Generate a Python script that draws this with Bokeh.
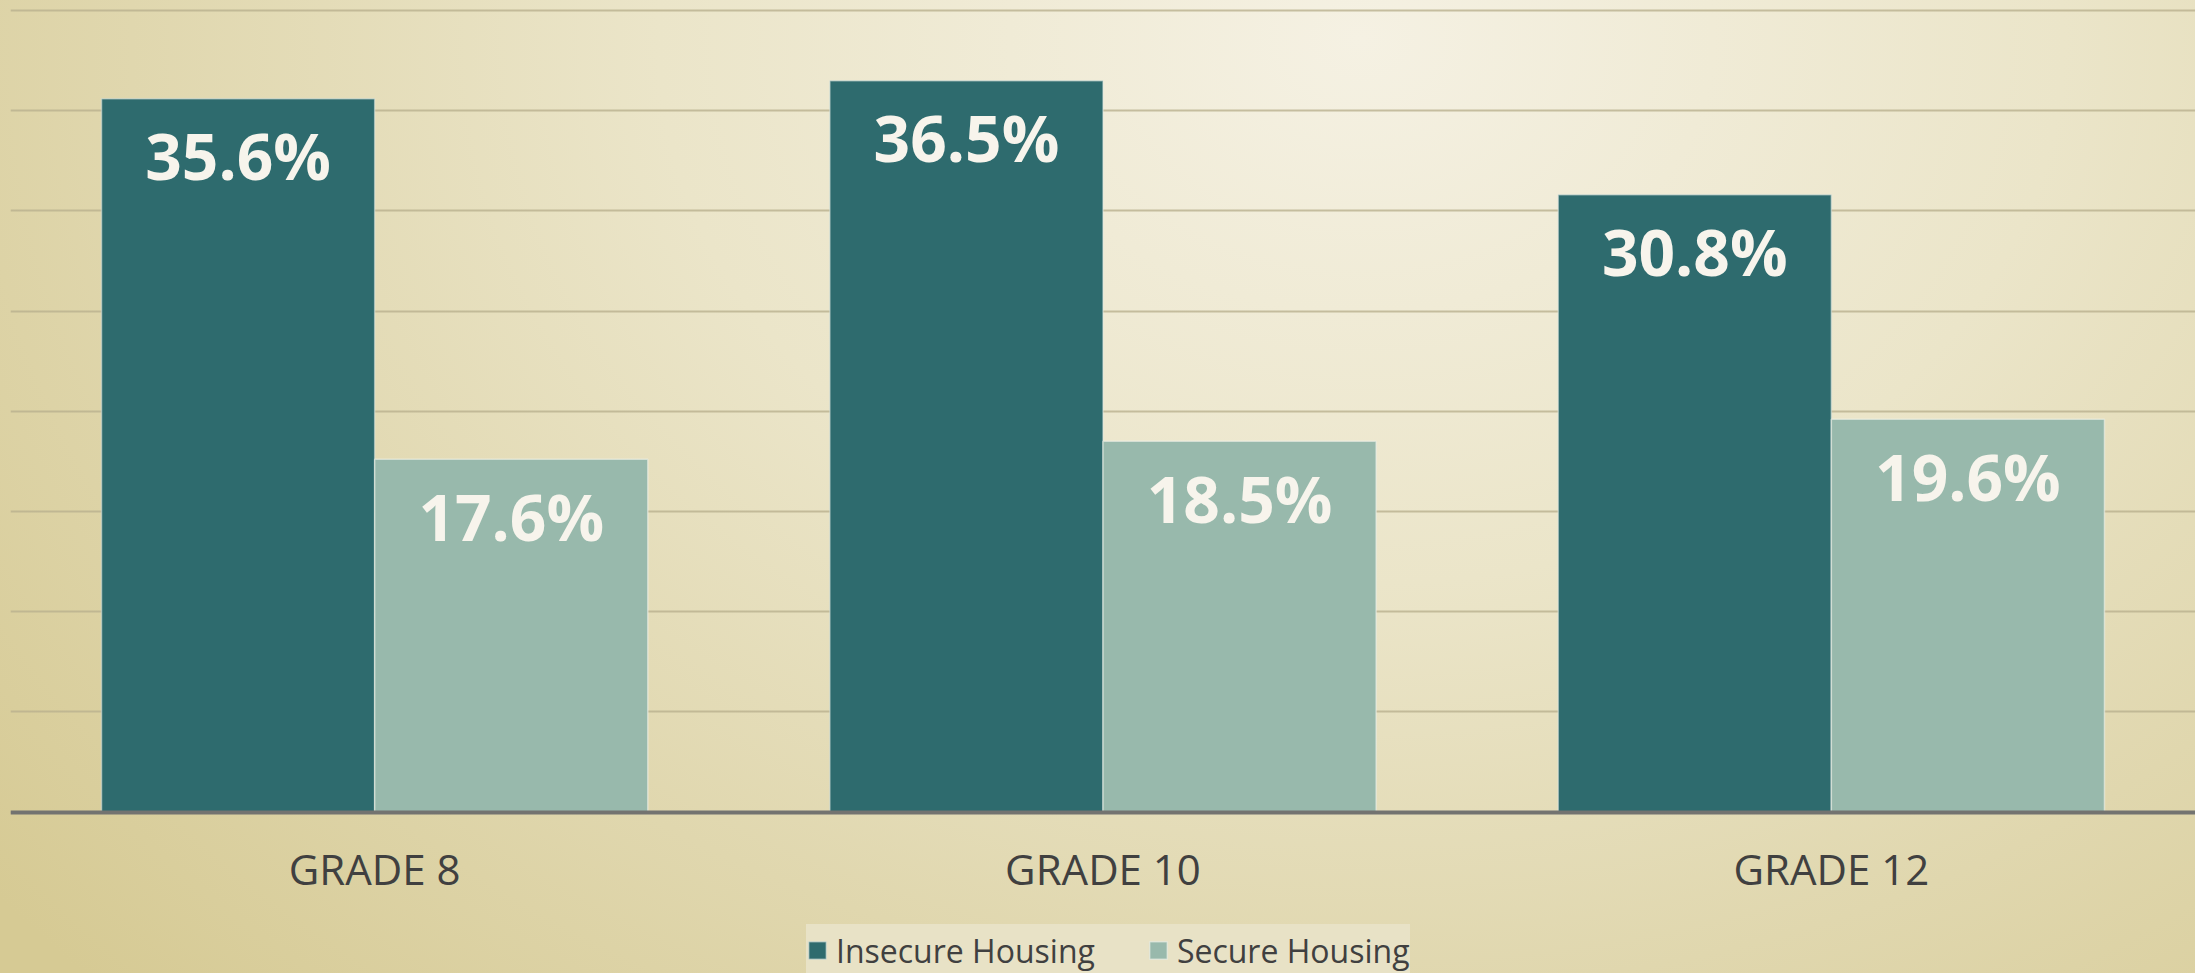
from bokeh.plotting import figure
from bokeh.models import (ColumnDataSource, FactorRange, Range1d, LabelSet, Legend,
                          LegendItem, FixedTicker)
from bokeh.core.properties import value
from bokeh.transform import dodge
from bokeh.embed import file_html
from bokeh.resources import INLINE

# ---- data ----
grades = ["GRADE 8", "GRADE 10", "GRADE 12"]
insecure = [35.6, 36.5, 30.8]
secure = [17.6, 18.5, 19.6]
series_names = ["Insecure Housing", "Secure Housing"]
y_ticks = [0, 5, 10, 15, 20, 25, 30, 35, 40]

COL_INS = "#2e6b6e"
COL_SEC = "#98b9ac"
TEXT_DARK = "#404040"

src = ColumnDataSource(dict(
    grade=grades,
    insecure=insecure,
    secure=secure,
    ins_lbl=[f"{v:.1f}%" for v in insecure],
    sec_lbl=[f"{v:.1f}%" for v in secure],
))

# ---- layout constants (pixels) ----
W, H = 2195, 973
LEFT = 10
TOP_PAD = 10        # px above the 40% line
BASE = 811.5        # px from top where value 0 sits
ymax = y_ticks[-1]
ppu = (BASE - TOP_PAD) / ymax
y_end = ymax + TOP_PAD / ppu
y_start = -(H - BASE) / ppu

p = figure(width=W, height=H, x_range=FactorRange(factors=grades),
           y_range=Range1d(y_start, y_end), output_backend="svg", toolbar_location=None,
           min_border_left=LEFT, min_border_right=0, min_border_top=0, min_border_bottom=0)

p.styles = {"background": "radial-gradient(ellipse 80% 140% at 62% 4%, #f5f1e3 0%, #ebe5c9 40%, #e0d7ae 70%, #d6ca94 100%)"}
p.border_fill_alpha = 0
p.background_fill_alpha = 0
p.outline_line_color = None

bw = 0.375
r1 = p.vbar(x=dodge("grade", -bw / 2, range=p.x_range), top="insecure", width=bw, source=src,
            fill_color=COL_INS, line_color="#dfe8e2", line_alpha=0.55, line_width=1.5)
r2 = p.vbar(x=dodge("grade", bw / 2, range=p.x_range), top="secure", width=bw, source=src,
            fill_color=COL_SEC, line_color="#eef2ea", line_alpha=0.6, line_width=1.5)

lab_kw = dict(text_font=value("Open Sans"), text_font_style="bold", text_font_size="64px",
              text_color="#f7f4ec", text_align="center", text_baseline="middle",
              y_offset=-57, source=src)
p.add_layout(LabelSet(x=dodge("grade", -bw / 2, range=p.x_range), y="insecure", text="ins_lbl", **lab_kw))
p.add_layout(LabelSet(x=dodge("grade", bw / 2, range=p.x_range), y="secure", text="sec_lbl", **lab_kw))

# axes
p.yaxis.visible = False
p.yaxis.ticker = FixedTicker(ticks=y_ticks)
p.ygrid.ticker = FixedTicker(ticks=y_ticks)
p.ygrid.grid_line_color = "#b9b08e"
p.ygrid.grid_line_width = 2
p.ygrid.grid_line_alpha = 0.8
p.xgrid.grid_line_color = None

xa = p.xaxis[0]
xa.fixed_location = 0
xa.axis_line_color = "#737370"
xa.axis_line_width = 4
xa.major_tick_line_color = None
xa.minor_tick_line_color = None
xa.major_label_text_font = "Open Sans"
xa.major_label_text_font_size = "42px"
xa.major_label_text_color = TEXT_DARK
xa.major_label_standoff = 22

legend = Legend(items=[LegendItem(label=series_names[0], renderers=[r1]),
                       LegendItem(label=series_names[1], renderers=[r2])],
                orientation="horizontal", location=(796, -3),
                label_text_font="Open Sans", label_text_font_size="32px",
                label_text_color=TEXT_DARK, glyph_width=22, glyph_height=22,
                label_standoff=8, spacing=52, padding=10, margin=0, label_height=52,
                background_fill_color="#e8e2c6", background_fill_alpha=1,
                border_line_color=None)
p.add_layout(legend, "center")

open("out.html", "w").write(file_html(p, INLINE))
